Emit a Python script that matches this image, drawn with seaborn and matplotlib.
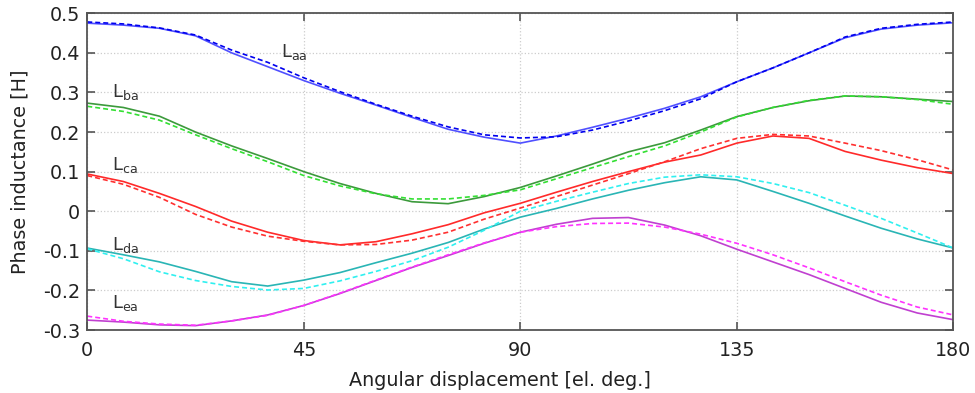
import numpy as np
import pandas as pd
import matplotlib
matplotlib.use("Agg")
import matplotlib.pyplot as plt
import seaborn as sns

angles = [0, 7.5, 15, 22.5, 30, 37.5, 45, 52.5, 60, 67.5, 75, 82.5, 90,
          97.5, 105, 112.5, 120, 127.5, 135, 142.5, 150, 157.5, 165, 172.5, 180]

laa_solid = [0.475, 0.470, 0.462, 0.443, 0.400, 0.365, 0.330, 0.298, 0.268, 0.237, 0.207, 0.187, 0.172,
             0.190, 0.212, 0.235, 0.260, 0.289, 0.327, 0.362, 0.400, 0.438, 0.460, 0.470, 0.476]
laa_dash = [0.478, 0.473, 0.463, 0.445, 0.407, 0.376, 0.337, 0.302, 0.270, 0.240, 0.213, 0.193, 0.185,
            0.188, 0.205, 0.228, 0.254, 0.284, 0.327, 0.362, 0.400, 0.440, 0.462, 0.472, 0.478]

lba_solid = [0.273, 0.262, 0.240, 0.200, 0.165, 0.133, 0.100, 0.070, 0.045, 0.024, 0.019, 0.037, 0.060,
             0.089, 0.119, 0.150, 0.173, 0.205, 0.239, 0.262, 0.279, 0.291, 0.289, 0.283, 0.277]
lba_dash = [0.265, 0.252, 0.230, 0.193, 0.158, 0.125, 0.090, 0.064, 0.044, 0.031, 0.031, 0.040, 0.054,
            0.082, 0.110, 0.138, 0.165, 0.200, 0.238, 0.262, 0.280, 0.291, 0.289, 0.282, 0.270]

lca_solid = [0.094, 0.075, 0.045, 0.012, -0.025, -0.053, -0.074, -0.085, -0.077, -0.057, -0.034, -0.004, 0.020,
             0.048, 0.075, 0.100, 0.124, 0.142, 0.172, 0.190, 0.184, 0.151, 0.129, 0.110, 0.095]
lca_dash = [0.090, 0.068, 0.035, -0.008, -0.040, -0.063, -0.076, -0.085, -0.084, -0.073, -0.053, -0.020, 0.008,
            0.037, 0.066, 0.095, 0.125, 0.158, 0.184, 0.194, 0.190, 0.172, 0.153, 0.130, 0.104]

lda_solid = [-0.093, -0.110, -0.128, -0.152, -0.178, -0.189, -0.174, -0.155, -0.130, -0.106, -0.079, -0.045, -0.015,
             0.007, 0.031, 0.053, 0.072, 0.087, 0.079, 0.050, 0.020, -0.012, -0.043, -0.070, -0.093]
lda_dash = [-0.095, -0.120, -0.153, -0.175, -0.190, -0.199, -0.195, -0.176, -0.152, -0.125, -0.091, -0.048, 0.000,
            0.025, 0.048, 0.070, 0.086, 0.092, 0.087, 0.070, 0.047, 0.015, -0.018, -0.055, -0.093]

lea_solid = [-0.275, -0.280, -0.287, -0.289, -0.277, -0.262, -0.238, -0.208, -0.175, -0.142, -0.112, -0.081, -0.053,
             -0.033, -0.018, -0.016, -0.035, -0.062, -0.096, -0.128, -0.160, -0.195, -0.230, -0.257, -0.274]
lea_dash = [-0.265, -0.278, -0.285, -0.288, -0.277, -0.263, -0.238, -0.207, -0.174, -0.141, -0.110, -0.080, -0.053,
            -0.039, -0.031, -0.030, -0.040, -0.058, -0.081, -0.110, -0.143, -0.178, -0.212, -0.242, -0.262]

labels = [r"$\mathregular{L_{aa}}$", r"$\mathregular{L_{ba}}$", r"$\mathregular{L_{ca}}$",
          r"$\mathregular{L_{da}}$", r"$\mathregular{L_{ea}}$"]
label_x = [40.3, 5.2, 5.2, 5.2, 5.2]
label_y = [0.39, 0.289, 0.104, -0.098, -0.244]

x_ticks = [0, 45, 90, 135, 180]
y_ticks = [-0.3, -0.2, -0.1, 0, 0.1, 0.2, 0.3, 0.4, 0.5]
y_ticklabels = ["-0.3", "-0.2", "-0.1", "0", "0.1", "0.2", "0.3", "0.4", "0.5"]

sns.set_theme(style="white")
plt.rcParams['font.family'] = ['DejaVu Sans']

solid_colors = ["#5050ff", "#3c9a3c", "#ff2a2a", "#2ab5b5", "#c040d0"]
dash_colors = ["#0000ee", "#33e033", "#ff3030", "#30f0f0", "#ff33ff"]
solids = [laa_solid, lba_solid, lca_solid, lda_solid, lea_solid]
dashes = [laa_dash, lba_dash, lca_dash, lda_dash, lea_dash]

FS = 13.8

fig = plt.figure(figsize=(9.75, 3.93), dpi=100)
ax = fig.add_axes([0.0895, 0.1603, 0.8883, 0.806])

for vals, c in zip(solids, solid_colors):
    sns.lineplot(x=angles, y=vals, ax=ax, color=c, linewidth=1.2, sort=False)
for vals, c in zip(dashes, dash_colors):
    sns.lineplot(x=angles, y=vals, ax=ax, color=c, linewidth=1.2, sort=False,
                 linestyle=(0, (3, 1.8)))

for lab, lx, ly in zip(labels, label_x, label_y):
    ax.text(lx, ly, lab, fontsize=13, color="#333333", ha="left", va="baseline")

ax.set_xlim(0, 180)
ax.set_ylim(-0.3, 0.5)
ax.set_xticks(x_ticks)
ax.set_xticklabels([str(t) for t in x_ticks])
ax.set_yticks(y_ticks)
ax.set_yticklabels(y_ticklabels)
ax.grid(True, color="#cccccc", linestyle=":", linewidth=0.9)
ax.tick_params(direction="in", length=6, width=1.2, color="#555555",
               top=True, right=True, bottom=True, left=True,
               labelsize=FS, labelcolor="#222222")
ax.tick_params(axis="x", pad=8)
ax.tick_params(axis="y", pad=5)
for s in ax.spines.values():
    s.set_color("#555555")
    s.set_linewidth(1.3)
ax.set_xlabel("Angular displacement [el. deg.]", fontsize=FS, color="#222222")
ax.set_ylabel("Phase inductance [H]", fontsize=FS, color="#222222")
ax.xaxis.set_label_coords(0.477, -0.128)
ax.yaxis.set_label_coords(-0.0667, 0.5)

fig.savefig("out.png", dpi=100)
